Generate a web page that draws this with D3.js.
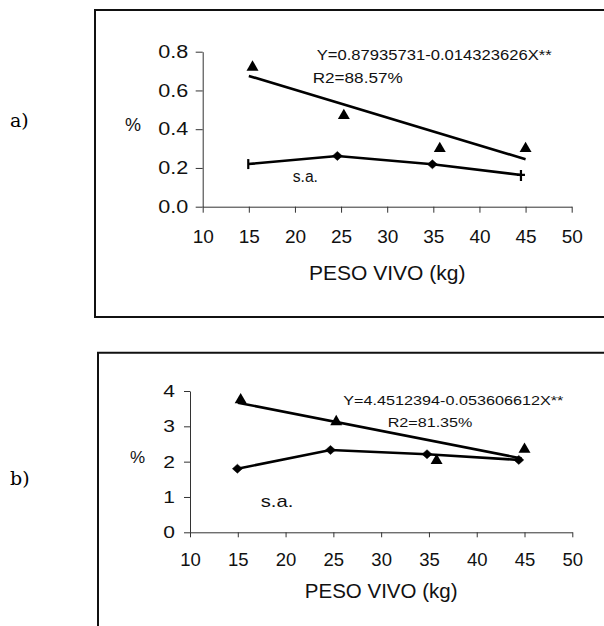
<!DOCTYPE html>
<html>
<head>
  <meta charset="utf-8">
  <title>PESO VIVO</title>
  <style>
    body { margin: 0; background: #fff; }
    svg { display: block; font-family: "Liberation Sans", Arial, sans-serif; }
  </style>
</head>
<body>
  <svg width="604" height="626"></svg>
  <script src="https://cdn.jsdelivr.net/npm/d3@7"></script>
  <script>
  // datos
  var pesoTicks = [10, 15, 20, 25, 30, 35, 40, 45, 50];

  // a)
  var aYTicks = [0, 0.2, 0.4, 0.6, 0.8];
  var aTriX = [15.4, 25.3, 35.7, 45.0];
  var aTriY = [0.72, 0.47, 0.30, 0.30];
  var aSaX = [14.95, 24.6, 34.9, 44.5];
  var aSaY = [0.22, 0.262, 0.219, 0.164];
  var aTrendX = [15, 45];
  var aTrendY = [0.675, 0.245];
  var aEquation = "Y=0.87935731-0.014323626X**";
  var aR2 = "R2=88.57%";

  // b)
  var bYTicks = [0, 1, 2, 3, 4];
  var bTriX = [15.3, 25.3, 35.8, 45.0];
  var bTriY = [3.75, 3.13, 2.03, 2.35];
  var bSaX = [14.96, 24.7, 34.8, 44.4];
  var bSaY = [1.80, 2.33, 2.21, 2.05];
  var bTrendX = [15, 44.7];
  var bTrendY = [3.67, 2.09];
  var bEquation = "Y=4.4512394-0.053606612X**";
  var bR2 = "R2=81.35%";

  var svg = d3.select("svg");

  function drawPanel(p) {
    var g = svg.append("g");

    // marco
    g.append("path")
      .attr("d", p.frame)
      .attr("fill", "none")
      .attr("stroke", "#111")
      .attr("stroke-width", 2);

    g.append("text")
      .attr("x", 10).attr("y", p.letterY)
      .style("font-family", "'DejaVu Serif', serif")
      .style("font-size", "19px")
      .text(p.letter);

    var x = d3.scaleLinear().domain([10, 50]).range(p.xRange);
    var y = d3.scaleLinear().domain(p.yDomain).range(p.yRange);

    var yAxis = g.append("g")
      .attr("transform", "translate(" + p.xRange[0] + ",0)")
      .call(d3.axisLeft(y).tickValues(p.yTicks).tickFormat(p.yFormat)
        .tickSize(p.yTickSize).tickSizeOuter(0).tickPadding(p.yPad));
    yAxis.selectAll("text")
      .style("font-size", p.yFont + "px")
      .attr("textLength", p.yTextLen)
      .attr("lengthAdjust", "spacingAndGlyphs");

    var xAxis = g.append("g")
      .attr("transform", "translate(0," + p.yRange[0] + ")")
      .call(d3.axisBottom(x).tickValues(pesoTicks).tickFormat(d3.format("d"))
        .tickSize(p.xTickSize).tickSizeOuter(0));
    xAxis.selectAll("text")
      .style("font-size", p.xFont + "px")
      .attr("y", p.xLabelDy).attr("dy", 0);

    g.selectAll(".domain, .tick line").attr("stroke", "#333");
    g.selectAll(".tick text").attr("fill", "#111");

    g.append("text")
      .attr("x", x(30)).attr("y", p.titleY)
      .attr("text-anchor", "middle")
      .style("font-size", p.titleFont + "px")
      .attr("fill", "#111")
      .text("PESO VIVO (kg)");

    g.append("text")
      .attr("x", p.pctX).attr("y", p.pctY)
      .style("font-size", p.pctFont + "px")
      .attr("fill", "#111")
      .text("%");

    var line = d3.line()
      .x(function(d) { return x(d[0]); })
      .y(function(d) { return y(d[1]); });

    // recta de regresion
    g.append("path")
      .datum(d3.zip(p.trendX, p.trendY))
      .attr("d", line)
      .attr("fill", "none")
      .attr("stroke", "#000")
      .attr("stroke-width", 2.6);

    // s.a.
    var sa = d3.zip(p.saX, p.saY);
    g.append("path")
      .datum(sa)
      .attr("d", line)
      .attr("fill", "none")
      .attr("stroke", "#000")
      .attr("stroke-width", 2.6);

    g.selectAll(".sa")
      .data(sa)
      .enter()
      .append("path")
      .attr("transform", function(d) { return "translate(" + x(d[0]) + "," + y(d[1]) + ")"; })
      .attr("d", function(d, i) { return p.saShape(i, sa.length); })
      .attr("fill", "#000")
      .attr("stroke", "#000")
      .attr("stroke-width", function(d, i) { return p.saShape(i, sa.length).indexOf("M-") === 0 && p.letter == "a)" && (i == 0 || i == sa.length - 1) ? 2.2 : 0.5; });

    g.selectAll(".tri")
      .data(d3.zip(p.triX, p.triY))
      .enter()
      .append("path")
      .attr("transform", function(d) { return "translate(" + x(d[0]) + "," + y(d[1]) + ")"; })
      .attr("d", d3.symbol().type(d3.symbolTriangle).size(62))
      .attr("fill", "#000");

    g.append("text")
      .attr("x", p.eqX).attr("y", p.eqY)
      .style("font-size", p.eqFont + "px")
      .attr("textLength", p.eqLen)
      .attr("lengthAdjust", "spacingAndGlyphs")
      .attr("fill", "#111")
      .text(p.equation);

    g.append("text")
      .attr("x", p.r2X).attr("y", p.r2Y)
      .style("font-size", p.eqFont + "px")
      .attr("textLength", p.r2Len)
      .attr("lengthAdjust", "spacingAndGlyphs")
      .attr("fill", "#111")
      .text(p.r2);

    g.append("text")
      .attr("x", p.saLabelX).attr("y", p.saLabelY)
      .style("font-size", p.saFont + "px")
      .attr("textLength", p.saLen)
      .attr("lengthAdjust", "spacingAndGlyphs")
      .attr("fill", "#111")
      .text("s.a.");
  }

  var diamond = "M0,-4.5L5,0L0,4.5L-5,0Z";

  drawPanel({
    letter: "a)", letterY: 127,
    frame: "M604,10H95V317H604",
    xRange: [202.7, 571.7], yRange: [206.7, 51.7], yDomain: [0, 0.8],
    yTicks: aYTicks, yFormat: d3.format(".1f"),
    yTickSize: 7, yPad: 7.5, yFont: 18, yTextLen: 30,
    xTickSize: 6, xFont: 19, xLabelDy: 36.6,
    titleY: 280, titleFont: 21,
    pctX: 125, pctY: 131, pctFont: 18,
    trendX: aTrendX, trendY: aTrendY,
    saX: aSaX, saY: aSaY,
    saShape: function(i, n) {
      if (i == 0) return "M-0.1,-5V5";
      if (i == n - 1) return "M-4,0H4M0,-5V6";
      return diamond;
    },
    triX: aTriX, triY: aTriY,
    equation: aEquation, eqX: 316.7, eqY: 60, eqFont: 14, eqLen: 235,
    r2: aR2, r2X: 312.7, r2Y: 83.3, r2Len: 90,
    saLabelX: 292.7, saLabelY: 181.7, saFont: 16, saLen: 25.3
  });

  drawPanel({
    letter: "b)", letterY: 485,
    frame: "M604,352.7H98V626",
    xRange: [190, 572.3], yRange: [532.3, 391], yDomain: [0, 4],
    yTicks: bYTicks, yFormat: d3.format("d"),
    yTickSize: 6, yPad: 9, yFont: 17, yTextLen: 11.7,
    xTickSize: 5, xFont: 18.5, xLabelDy: 33.7,
    titleY: 598.3, titleFont: 20.5,
    pctX: 130, pctY: 463, pctFont: 17,
    trendX: bTrendX, trendY: bTrendY,
    saX: bSaX, saY: bSaY,
    saShape: function() { return diamond; },
    triX: bTriX, triY: bTriY,
    equation: bEquation, eqX: 343.3, eqY: 405.3, eqFont: 13.5, eqLen: 220,
    r2: bR2, r2X: 387.7, r2Y: 426.7, r2Len: 84.7,
    saLabelX: 260.7, saLabelY: 506.7, saFont: 17, saLen: 32.6
  });
  </script>
</body>
</html>
